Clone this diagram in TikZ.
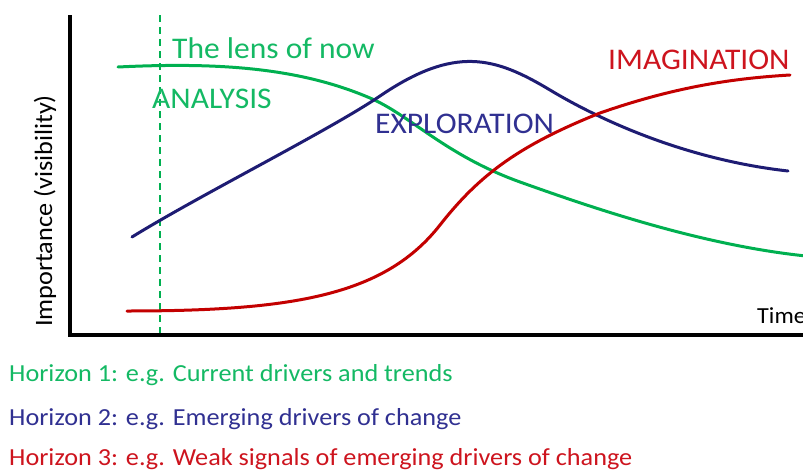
\documentclass[tikz,border=0pt]{standalone}
\usepackage{fontspec}
\setmainfont{Carlito}[FakeStretch=1.05]
\newfontfamily\horfont{Carlito}[FakeStretch=1.07]
\definecolor{cgreen}{RGB}{0,176,80}
\definecolor{cgtext}{RGB}{20,185,100}
\definecolor{cnavy}{RGB}{30,28,115}
\definecolor{cbtext}{RGB}{48,48,145}
\definecolor{cred}{RGB}{195,0,0}
\definecolor{crtext}{RGB}{205,20,30}
\tikzset{
  curve/.style={line width=3pt, line cap=round, line join=round},
  axisline/.style={line width=3.5pt, black},
  big/.style={inner sep=0pt, anchor=base west, font=\fontsize{30}{36}\selectfont},
  small/.style={inner sep=0pt, anchor=base west, font=\horfont\fontsize{24.5}{30}\selectfont},
}
\begin{document}
\begin{tikzpicture}[x=1pt,y=-1pt]
\useasboundingbox (0,0) rectangle (803,471);
% axes
\coordinate (top) at (70,15);
\coordinate (origin) at (70,335);
\coordinate (xend) at (805,335);
\draw[axisline, line join=miter] (top) -- (origin) -- (xend);
% dashed lens line
\coordinate (dtop) at (160,15);
\coordinate (dbot) at (160,333);
\draw[cgreen, line width=2pt, dash pattern=on 7pt off 5pt] (dtop) -- (dbot);
% curves
\draw[curve, cgreen] (118,67) .. controls (220,62) and (300,68) .. (370,98)
  .. controls (410,115) and (445,155) .. (520,182)
  .. controls (590,207) and (700,245) .. (806,256);
\draw[curve, cnavy] (132,237) .. controls (200,195) and (330,130) .. (380,96)
  .. controls (455,45) and (495,57) .. (550,90)
  .. controls (605,123) and (690,160) .. (788,171);
\draw[curve, cred] (127,311) .. controls (295,311) and (385,295) .. (440,225)
  .. controls (480,174) and (520,145) .. (600,113)
  .. controls (680,85) and (740,78) .. (790,75);
% labels
\node[big, text=cgtext] (lens) at (172,58) {The lens of now};
\node[big, text=cgtext] (analysis) at (152,108) {ANALYSIS};
\node[big, text=cbtext] (exploration) at (375,133) {EXPLORATION};
\node[big, text=crtext] (imagination) at (608,69) {IMAGINATION};
\node[inner sep=0pt, anchor=base west, font=\fontsize{23}{28}\selectfont] (time) at (757,323) {Time};
\node[inner sep=0pt, rotate=90, font=\fontsize{25}{30}\selectfont] (ylab) at (45,211) {Importance (visibility)};
\node[small, text=cgtext] (h1) at (9,381) {Horizon 1: e.g. Current drivers and trends};
\node[small, text=cbtext] (h2) at (9,425) {Horizon 2: e.g. Emerging drivers of change};
\node[small, text=crtext] (h3) at (9,465) {Horizon 3: e.g. Weak signals of emerging drivers of change};
\end{tikzpicture}
\end{document}
